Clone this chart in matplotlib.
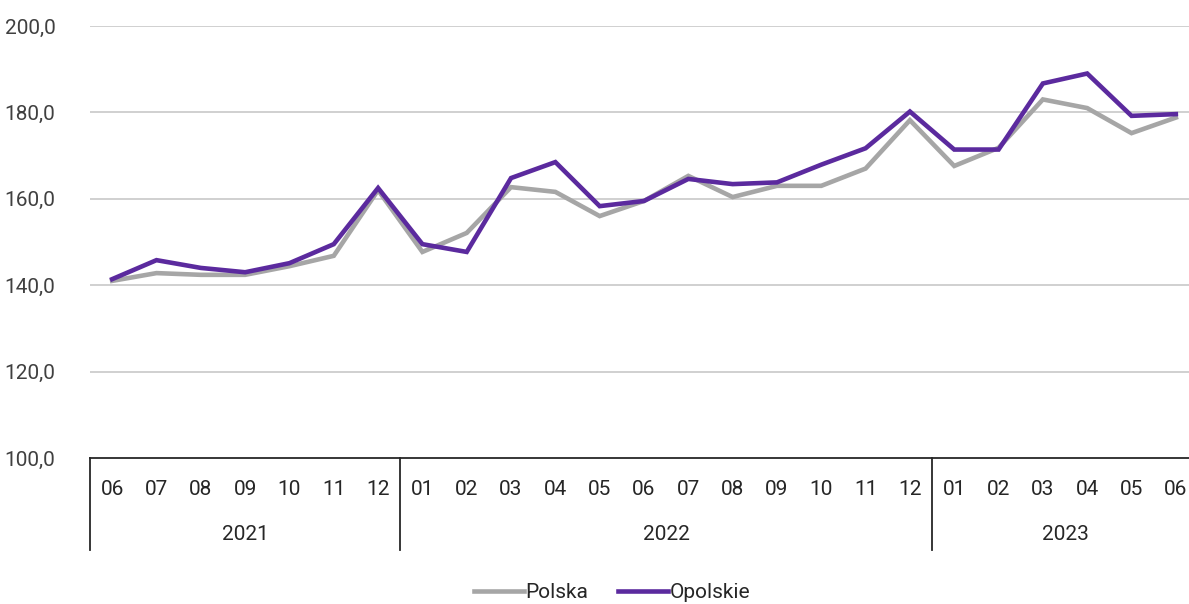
import matplotlib
matplotlib.use("Agg")
import matplotlib.pyplot as plt
import matplotlib.transforms as mtransforms

plt.rcParams["font.family"] = ["Roboto", "DejaVu Sans"]

# months 2021-06 .. 2023-06
months = ["06", "07", "08", "09", "10", "11", "12",
          "01", "02", "03", "04", "05", "06", "07", "08", "09", "10", "11", "12",
          "01", "02", "03", "04", "05", "06"]
years = ["2021", "2022", "2023"]
year_counts = [7, 12, 6]

polska = [141.0, 142.8, 142.4, 142.4, 144.4, 146.8, 162.0,
          147.7, 152.1, 162.7, 161.6, 156.0, 159.5, 165.3, 160.4, 163.0, 163.0, 167.0, 178.2,
          167.6, 171.8, 183.0, 181.0, 175.2, 178.8]
opolskie = [141.4, 145.8, 144.0, 143.0, 145.1, 149.5, 162.5,
            149.5, 147.7, 164.8, 168.5, 158.3, 159.5, 164.6, 163.4, 163.8, 167.9, 171.7, 180.2,
            171.4, 171.4, 186.7, 189.0, 179.2, 179.6]

fig = plt.figure(figsize=(11.89, 6.04), dpi=100)
ax = fig.add_axes([90 / 1189, 146 / 604, 1108 / 1189, 432 / 604])

x = list(range(len(months)))
ax.plot(x, polska, color="#a6a6a6", lw=3.3, label="Polska", solid_joinstyle="miter")
ax.plot(x, opolskie, color="#5b2a9e", lw=3.3, label="Opolskie", solid_joinstyle="miter")

ax.set_xlim(-0.5, len(months) - 0.5)
ax.set_ylim(100, 200)
ax.set_yticks([100, 120, 140, 160, 180, 200])
ax.set_yticklabels([f"{v},0" for v in range(100, 201, 20)], fontsize=15, color="#404040")
ax.tick_params(axis="y", length=0, pad=25)
for v in [120, 140, 160, 180, 200]:
    ax.axhline(v, color="#c8c8c8", lw=1.2, zorder=0)

ax.set_xticks(x)
ax.set_xticklabels(months, fontsize=15, color="#262626")
ax.tick_params(axis="x", length=0, pad=16)

for s in ["left", "right", "top"]:
    ax.spines[s].set_visible(False)
ax.spines["bottom"].set_color("#262626")
ax.spines["bottom"].set_linewidth(1.3)

# two-level category axis: separators and year labels
trans = mtransforms.blended_transform_factory(ax.transData, ax.transAxes)
start = -0.5
ax.plot([start, start], [0, -92 / 432], transform=trans, color="#262626", lw=1.3, clip_on=False)
for yr, n in zip(years, year_counts):
    end = start + n
    ax.text((start + end) / 2, -77 / 432, yr, transform=trans, ha="center", va="center",
            fontsize=15, color="#262626")
    ax.plot([end, end], [0, -92 / 432], transform=trans, color="#262626", lw=1.3, clip_on=False)
    start = end

fig.legend(loc="center", bbox_to_anchor=(612 / 1189, 1 - 593 / 604), ncol=2, frameon=False,
           fontsize=15, handlelength=2.4, handletextpad=0.1, columnspacing=1.4,
           labelcolor="#262626")

fig.savefig("out.png", dpi=100)
